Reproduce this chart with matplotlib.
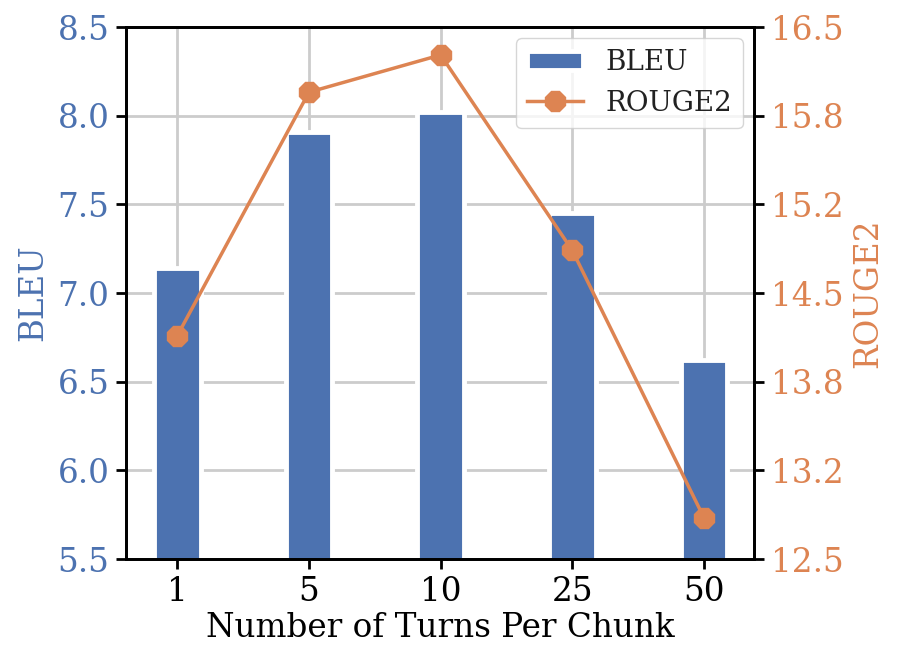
import matplotlib
matplotlib.use("Agg")
import matplotlib.pyplot as plt
import numpy as np

categories = ["1", "5", "10", "25", "50"]
bleu = [7.14, 7.91, 8.02, 7.45, 6.62]
rouge2 = [14.18, 16.01, 16.29, 14.82, 12.81]

blue = "#4C72B0"
orange = "#DD8452"

plt.rcParams["font.family"] = ["DejaVu Serif"]
plt.rcParams["axes.axisbelow"] = True

FS = 23.5

fig = plt.figure(figsize=(9, 6.65), dpi=100)
ax = fig.add_axes([126/900, 1-559/665, (754-126)/900, (559-27)/665])
x = np.arange(len(categories))

ax.bar(x, bleu, width=0.355, color=blue, edgecolor="white", linewidth=3.5, label="BLEU", zorder=2)
ax.set_ylim(5.5, 8.5)
ax.set_xlim(-0.39, 4.38)
ax.set_yticks(np.linspace(5.5, 8.5, 7))
ax.set_yticklabels([f"{v:.1f}" for v in np.linspace(5.5, 8.5, 7)])
ax.set_xticks(x)
ax.set_xticklabels(categories)
ax.grid(True, color="#cccccc", linewidth=2)
ax.tick_params(axis="y", colors="black", labelcolor=blue, labelsize=FS, length=7, width=2, pad=5)
ax.tick_params(axis="x", colors="black", labelcolor="black", labelsize=FS, length=7, width=2, pad=5)
ax.set_ylabel("BLEU", color=blue, fontsize=FS, labelpad=6)
ax.set_xlabel("Number of Turns Per Chunk", fontsize=FS, labelpad=3)
for s in ax.spines.values():
    s.set_linewidth(2)
    s.set_color("black")

ax2 = ax.twinx()
ax2.plot(x, rouge2, color=orange, marker="8", markersize=16, linewidth=2.5, label="ROUGE2", zorder=3)
r_ticks = np.linspace(12.5, 16.5, 7)
ax2.set_ylim(12.5, 16.5)
ax2.set_yticks(r_ticks)
ax2.set_yticklabels([f"{v:.1f}" for v in r_ticks])
ax2.tick_params(axis="y", colors="black", labelcolor=orange, labelsize=FS, length=7, width=2, pad=5)
ax2.set_ylabel("ROUGE2", color=orange, fontsize=FS, labelpad=6)
for s in ax2.spines.values():
    s.set_linewidth(2)
    s.set_color("black")

h1, l1 = ax.get_legend_handles_labels()
h2, l2 = ax2.get_legend_handles_labels()
leg = ax2.legend(h1 + h2, l1 + l2, loc="upper right", fontsize=20, framealpha=0.8,
                 edgecolor="#cccccc", fancybox=True, borderaxespad=0.4)
for t in leg.get_texts():
    t.set_color("#222222")

fig.savefig("out.png", dpi=100)
